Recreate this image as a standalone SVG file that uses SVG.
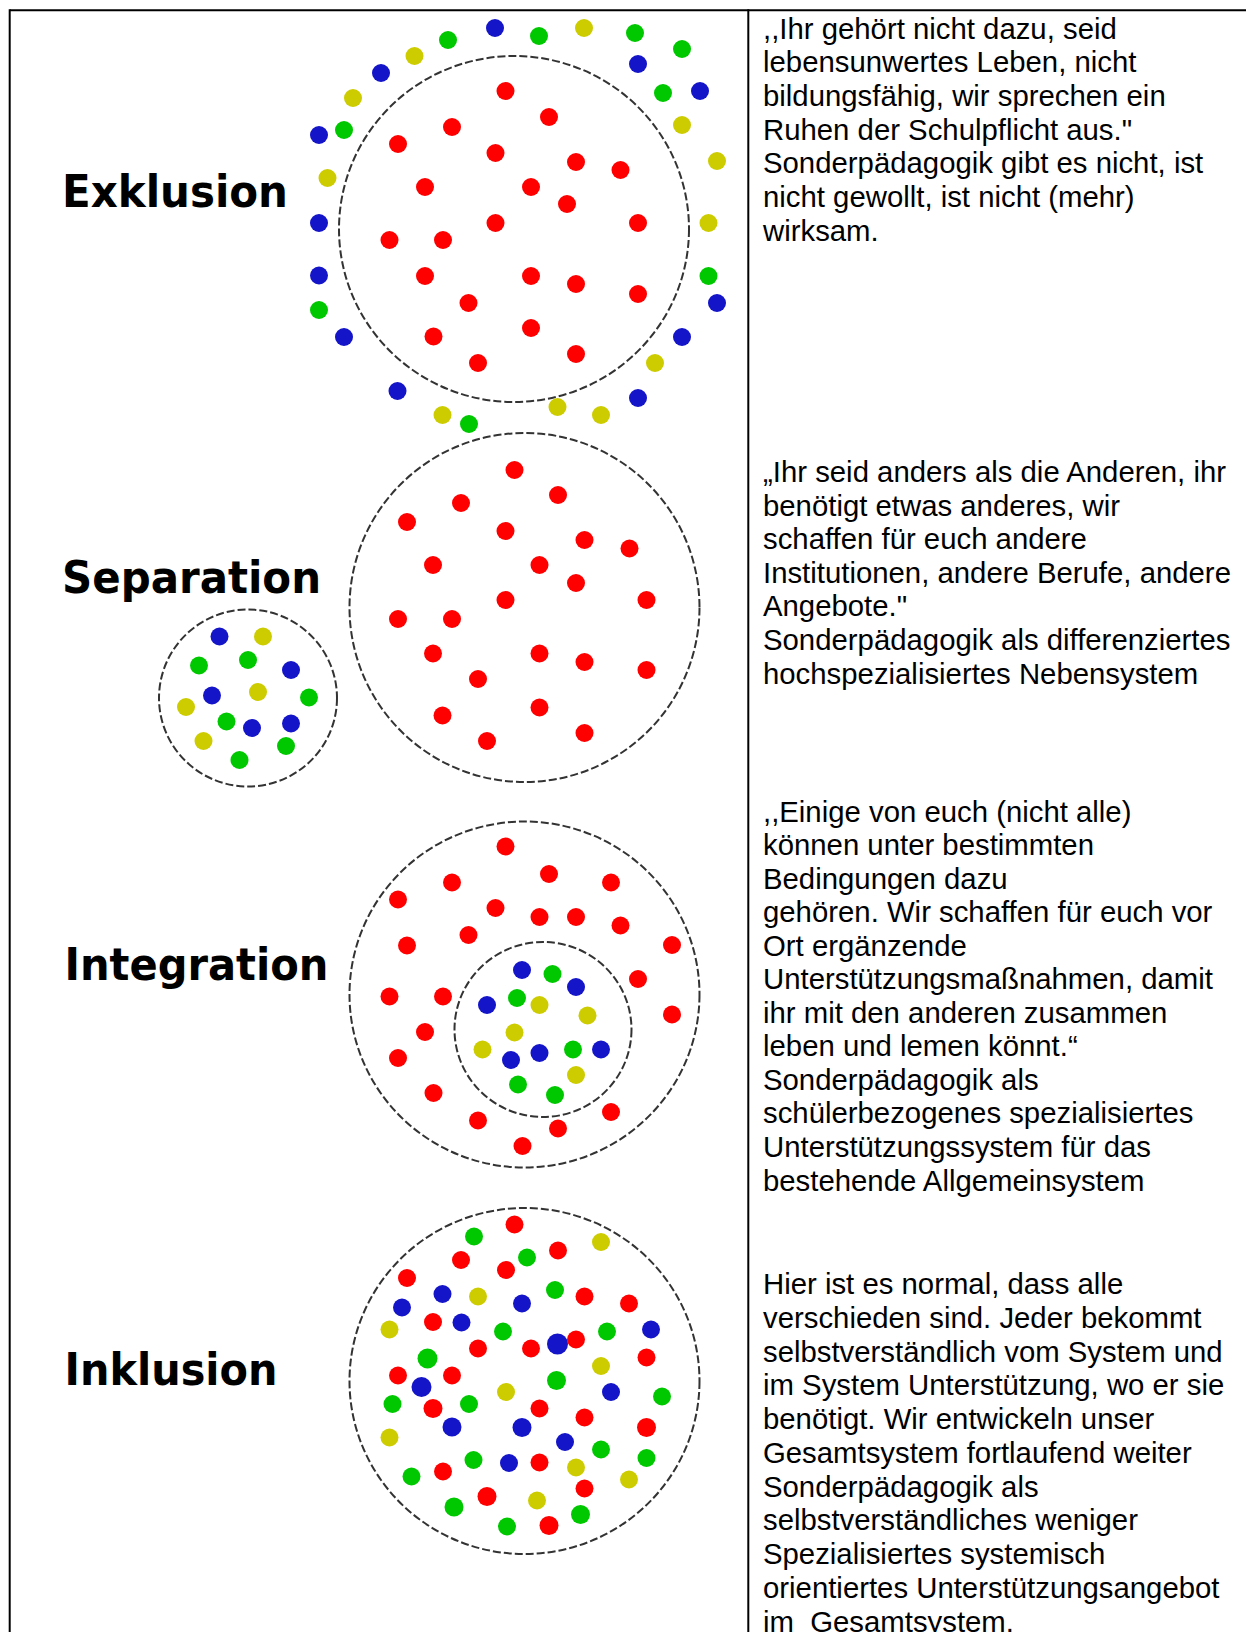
<svg xmlns="http://www.w3.org/2000/svg" width="1246" height="1632" viewBox="0 0 1246 1632">
<style>
.frame{stroke:#000;stroke-width:2;fill:none}
.ring{fill:none;stroke:#333;stroke-width:2;stroke-dasharray:8 3}
.lbl{font-family:"DejaVu Sans",sans-serif;font-weight:bold;font-size:44px;fill:#000}
.txt{font-family:"Liberation Sans",Arial,sans-serif;font-size:29.33px;fill:#000;white-space:pre}
.r{fill:#ff0000}.b{fill:#1414c8}.g{fill:#00c800}.y{fill:#cccc00}
</style>
<rect width="1246" height="1632" fill="#fff"/>
<g id="table">
<line class="frame" x1="9.7" y1="10.3" x2="1246" y2="10.3"/>
<line class="frame" x1="9.7" y1="9.3" x2="9.7" y2="1632"/>
<line class="frame" x1="748.3" y1="9.3" x2="748.3" y2="1632"/>
</g>
<g id="connectors"/>
<g id="exklusion">
<text class="lbl" x="62" y="207" textLength="226" lengthAdjust="spacingAndGlyphs">Exklusion</text>
<ellipse class="ring" cx="514" cy="229" rx="175" ry="173"/>
<g>
<circle class="b" cx="495" cy="28" r="9"/><circle class="g" cx="539" cy="36" r="9"/><circle class="y" cx="584" cy="28" r="9"/><circle class="g" cx="635" cy="33" r="9"/><circle class="g" cx="682" cy="49" r="9"/><circle class="b" cx="638" cy="64" r="9"/><circle class="g" cx="663" cy="93" r="9"/><circle class="b" cx="700" cy="91" r="9"/><circle class="y" cx="682" cy="125" r="9"/><circle class="y" cx="717" cy="161" r="9"/><circle class="y" cx="708.5" cy="223" r="9"/><circle class="g" cx="708.5" cy="276" r="9"/><circle class="b" cx="717" cy="303" r="9"/><circle class="b" cx="682" cy="337" r="9"/><circle class="y" cx="655" cy="363" r="9"/><circle class="b" cx="638" cy="398" r="9"/><circle class="y" cx="601" cy="415" r="9"/><circle class="y" cx="557.5" cy="407" r="9"/><circle class="g" cx="469" cy="424" r="9"/><circle class="y" cx="442.5" cy="415" r="9"/><circle class="b" cx="397.5" cy="391" r="9"/><circle class="b" cx="344" cy="337" r="9"/><circle class="g" cx="319" cy="310" r="9"/><circle class="b" cx="319" cy="275.5" r="9"/><circle class="b" cx="319" cy="223" r="9"/><circle class="y" cx="327.5" cy="178" r="9"/><circle class="b" cx="319" cy="135" r="9"/><circle class="g" cx="344" cy="130" r="9"/><circle class="y" cx="353" cy="98" r="9"/><circle class="b" cx="381" cy="73" r="9"/><circle class="y" cx="414.5" cy="56" r="9"/><circle class="g" cx="448" cy="40" r="9"/>
</g>
<g>
<circle class="r" cx="505.5" cy="91" r="9"/><circle class="r" cx="549" cy="117" r="9"/><circle class="r" cx="452" cy="127" r="9"/><circle class="r" cx="398" cy="144" r="9"/><circle class="r" cx="495.5" cy="153" r="9"/><circle class="r" cx="576" cy="162" r="9"/><circle class="r" cx="620.5" cy="170" r="9"/><circle class="r" cx="425" cy="187" r="9"/><circle class="r" cx="531" cy="187" r="9"/><circle class="r" cx="567" cy="204" r="9"/><circle class="r" cx="495.5" cy="223" r="9"/><circle class="r" cx="638" cy="223" r="9"/><circle class="r" cx="389.5" cy="240" r="9"/><circle class="r" cx="443" cy="240" r="9"/><circle class="r" cx="425" cy="276" r="9"/><circle class="r" cx="531" cy="276" r="9"/><circle class="r" cx="576" cy="284" r="9"/><circle class="r" cx="638" cy="294" r="9"/><circle class="r" cx="468.5" cy="303" r="9"/><circle class="r" cx="433.5" cy="336.5" r="9"/><circle class="r" cx="531" cy="328" r="9"/><circle class="r" cx="576" cy="354" r="9"/><circle class="r" cx="478" cy="363" r="9"/>
</g>
</g>
<g id="separation">
<text class="lbl" x="62" y="593" textLength="259" lengthAdjust="spacingAndGlyphs">Separation</text>
<ellipse class="ring" cx="524.5" cy="607.5" rx="175" ry="174.5"/>
<ellipse class="ring" cx="248" cy="698" rx="89" ry="88.5"/>
<g>
<circle class="r" cx="514.5" cy="470" r="9"/><circle class="r" cx="558" cy="495" r="9"/><circle class="r" cx="461" cy="503" r="9"/><circle class="r" cx="407" cy="522" r="9"/><circle class="r" cx="505.5" cy="531" r="9"/><circle class="r" cx="584.5" cy="540" r="9"/><circle class="r" cx="629.5" cy="548.5" r="9"/><circle class="r" cx="433" cy="565" r="9"/><circle class="r" cx="539.5" cy="565" r="9"/><circle class="r" cx="576" cy="583" r="9"/><circle class="r" cx="505.5" cy="600" r="9"/><circle class="r" cx="646.5" cy="600" r="9"/><circle class="r" cx="398" cy="619" r="9"/><circle class="r" cx="452" cy="619" r="9"/><circle class="r" cx="433" cy="653.5" r="9"/><circle class="r" cx="539.5" cy="653.5" r="9"/><circle class="r" cx="584.5" cy="662" r="9"/><circle class="r" cx="646.5" cy="670" r="9"/><circle class="r" cx="478" cy="679" r="9"/><circle class="r" cx="442.5" cy="715.5" r="9"/><circle class="r" cx="539.5" cy="707.5" r="9"/><circle class="r" cx="584.5" cy="733" r="9"/><circle class="r" cx="487" cy="741" r="9"/>
</g>
<g>
<circle class="b" cx="219.5" cy="636.5" r="9"/><circle class="y" cx="263" cy="636.5" r="9"/><circle class="g" cx="199" cy="665.5" r="9"/><circle class="g" cx="248" cy="660" r="9"/><circle class="b" cx="291" cy="670" r="9"/><circle class="b" cx="212" cy="695.5" r="9"/><circle class="y" cx="258" cy="692" r="9"/><circle class="g" cx="309" cy="697.5" r="9"/><circle class="y" cx="186" cy="707" r="9"/><circle class="g" cx="226.5" cy="721.5" r="9"/><circle class="b" cx="252" cy="728" r="9"/><circle class="b" cx="291" cy="723.5" r="9"/><circle class="y" cx="203.5" cy="741" r="9"/><circle class="g" cx="286" cy="746" r="9"/><circle class="g" cx="239.5" cy="760" r="9"/>
</g>
</g>
<g id="integration">
<text class="lbl" x="64.5" y="980" textLength="264" lengthAdjust="spacingAndGlyphs">Integration</text>
<ellipse class="ring" cx="524.5" cy="994.5" rx="175" ry="173"/>
<ellipse class="ring" cx="543" cy="1029.5" rx="88.5" ry="87.5"/>
<g>
<circle class="r" cx="505.5" cy="846.5" r="9"/><circle class="r" cx="549" cy="874" r="9"/><circle class="r" cx="452" cy="882.5" r="9"/><circle class="r" cx="611" cy="882.5" r="9"/><circle class="r" cx="398" cy="899.5" r="9"/><circle class="r" cx="495.5" cy="908" r="9"/><circle class="r" cx="539.5" cy="917" r="9"/><circle class="r" cx="576" cy="917" r="9"/><circle class="r" cx="620.5" cy="925.5" r="9"/><circle class="r" cx="468.5" cy="935" r="9"/><circle class="r" cx="407" cy="945.5" r="9"/><circle class="r" cx="672" cy="945" r="9"/><circle class="r" cx="638" cy="979" r="9"/><circle class="r" cx="389.5" cy="996.5" r="9"/><circle class="r" cx="443" cy="996.5" r="9"/><circle class="r" cx="672" cy="1014.5" r="9"/><circle class="r" cx="425" cy="1032" r="9"/><circle class="r" cx="398" cy="1058" r="9"/><circle class="r" cx="433.5" cy="1093" r="9"/><circle class="r" cx="611" cy="1112" r="9"/><circle class="r" cx="478" cy="1120.5" r="9"/><circle class="r" cx="558" cy="1128.5" r="9"/><circle class="r" cx="522.5" cy="1146" r="9"/>
</g>
<g>
<circle class="b" cx="522" cy="970" r="9"/><circle class="g" cx="552.5" cy="974" r="9"/><circle class="b" cx="576" cy="987" r="9"/><circle class="b" cx="487" cy="1005" r="9"/><circle class="g" cx="517" cy="998" r="9"/><circle class="y" cx="539.5" cy="1005" r="9"/><circle class="y" cx="587.5" cy="1015.5" r="9"/><circle class="y" cx="514.5" cy="1032.5" r="9"/><circle class="y" cx="482.5" cy="1049.5" r="9"/><circle class="b" cx="511" cy="1060" r="9"/><circle class="b" cx="539.5" cy="1053" r="9"/><circle class="g" cx="573" cy="1049.5" r="9"/><circle class="b" cx="601" cy="1049.5" r="9"/><circle class="y" cx="576" cy="1075" r="9"/><circle class="g" cx="518" cy="1084.5" r="9"/><circle class="g" cx="555" cy="1095" r="9"/>
</g>
</g>
<g id="inklusion">
<text class="lbl" x="64.5" y="1385" textLength="213" lengthAdjust="spacingAndGlyphs">Inklusion</text>
<ellipse class="ring" cx="524.5" cy="1381" rx="175" ry="173"/>
<g>
<circle class="r" cx="514.5" cy="1224.5" r="9"/><circle class="g" cx="474" cy="1236.5" r="9"/><circle class="y" cx="601" cy="1242" r="9"/><circle class="r" cx="558" cy="1250.5" r="9"/><circle class="g" cx="527" cy="1257.5" r="9"/><circle class="r" cx="461" cy="1260" r="9"/><circle class="r" cx="506" cy="1270" r="9"/><circle class="r" cx="407" cy="1278" r="9"/><circle class="b" cx="442.5" cy="1294" r="9"/><circle class="y" cx="478" cy="1296.5" r="9"/><circle class="g" cx="555" cy="1290" r="9"/><circle class="r" cx="584.5" cy="1296.5" r="9"/><circle class="b" cx="522" cy="1303.5" r="9"/><circle class="r" cx="629" cy="1303.5" r="9"/><circle class="b" cx="402" cy="1307.5" r="9"/><circle class="r" cx="433" cy="1322" r="9"/><circle class="b" cx="461.5" cy="1322.5" r="9"/><circle class="y" cx="389.5" cy="1329.5" r="9"/><circle class="g" cx="503" cy="1331.5" r="9"/><circle class="g" cx="607" cy="1331.5" r="9"/><circle class="b" cx="651" cy="1329.5" r="9"/><circle class="r" cx="576" cy="1339.5" r="9"/><circle class="b" cx="557.5" cy="1344" r="10.5"/><circle class="r" cx="478" cy="1348.5" r="9"/><circle class="r" cx="531" cy="1348.5" r="9"/><circle class="r" cx="646.5" cy="1357.5" r="9"/><circle class="g" cx="427.5" cy="1358.5" r="10"/><circle class="y" cx="601" cy="1366" r="9"/><circle class="r" cx="398" cy="1375.5" r="9"/><circle class="r" cx="452" cy="1375.5" r="9"/><circle class="g" cx="556.5" cy="1380.5" r="9.5"/><circle class="b" cx="421.5" cy="1387" r="10"/><circle class="y" cx="506" cy="1392" r="9"/><circle class="b" cx="611" cy="1392" r="9"/><circle class="g" cx="662" cy="1396.5" r="9"/><circle class="g" cx="392.5" cy="1404" r="9"/><circle class="g" cx="469" cy="1404" r="9"/><circle class="r" cx="433" cy="1408.5" r="9.5"/><circle class="r" cx="539.5" cy="1408.5" r="9"/><circle class="r" cx="584.5" cy="1417.5" r="9"/><circle class="b" cx="452" cy="1427" r="9.5"/><circle class="b" cx="522" cy="1427.5" r="9.5"/><circle class="r" cx="646.5" cy="1427.5" r="9.5"/><circle class="y" cx="389.5" cy="1437.5" r="9"/><circle class="b" cx="565" cy="1442" r="9"/><circle class="g" cx="601" cy="1449.5" r="9"/><circle class="g" cx="473.5" cy="1460" r="9"/><circle class="b" cx="509" cy="1463" r="9"/><circle class="r" cx="539.5" cy="1462.5" r="9"/><circle class="g" cx="646.5" cy="1458" r="9"/><circle class="y" cx="576" cy="1467.5" r="9"/><circle class="r" cx="443" cy="1471.5" r="9"/><circle class="g" cx="411.5" cy="1476.5" r="9"/><circle class="y" cx="629" cy="1479.5" r="9"/><circle class="r" cx="584.5" cy="1488.5" r="9"/><circle class="r" cx="487" cy="1496.5" r="9.5"/><circle class="y" cx="537" cy="1500.5" r="9"/><circle class="g" cx="454" cy="1507" r="9.5"/><circle class="g" cx="580.5" cy="1514.5" r="9.5"/><circle class="g" cx="507" cy="1526.5" r="9"/><circle class="r" cx="549" cy="1525.5" r="9.5"/>
</g>
</g>
<g id="text-exklusion">
<text class="txt" x="763" y="38.5"><tspan x="763">,,Ihr gehört nicht dazu, seid</tspan><tspan x="763" dy="33.7">lebensunwertes Leben, nicht</tspan><tspan x="763" dy="33.7">bildungsfähig, wir sprechen ein</tspan><tspan x="763" dy="33.7">Ruhen der Schulpflicht aus."</tspan><tspan x="763" dy="33.7">Sonderpädagogik gibt es nicht, ist</tspan><tspan x="763" dy="33.7">nicht gewollt, ist nicht (mehr)</tspan><tspan x="763" dy="33.7">wirksam.</tspan></text>
</g>
<g id="text-separation">
<text class="txt" x="763" y="482"><tspan x="763">„Ihr seid anders als die Anderen, ihr</tspan><tspan x="763" dy="33.6">benötigt etwas anderes, wir</tspan><tspan x="763" dy="33.6">schaffen für euch andere</tspan><tspan x="763" dy="33.6">Institutionen, andere Berufe, andere</tspan><tspan x="763" dy="33.6">Angebote."</tspan><tspan x="763" dy="33.6">Sonderpädagogik als differenziertes</tspan><tspan x="763" dy="33.6">hochspezialisiertes Nebensystem</tspan></text>
</g>
<g id="text-integration">
<text class="txt" x="763" y="821.5"><tspan x="763">,,Einige von euch (nicht alle)</tspan><tspan x="763" dy="33.55">können unter bestimmten</tspan><tspan x="763" dy="33.55">Bedingungen dazu</tspan><tspan x="763" dy="33.55">gehören. Wir schaffen für euch vor</tspan><tspan x="763" dy="33.55">Ort ergänzende</tspan><tspan x="763" dy="33.55">Unterstützungsmaßnahmen, damit</tspan><tspan x="763" dy="33.55">ihr mit den anderen zusammen</tspan><tspan x="763" dy="33.55">leben und lemen könnt.“</tspan><tspan x="763" dy="33.55">Sonderpädagogik als</tspan><tspan x="763" dy="33.55">schülerbezogenes spezialisiertes</tspan><tspan x="763" dy="33.55">Unterstützungssystem für das</tspan><tspan x="763" dy="33.55">bestehende Allgemeinsystem</tspan></text>
</g>
<g id="text-inklusion">
<text class="txt" x="763" y="1294"><tspan x="763">Hier ist es normal, dass alle</tspan><tspan x="763" dy="33.75">verschieden sind. Jeder bekommt</tspan><tspan x="763" dy="33.75">selbstverständlich vom System und</tspan><tspan x="763" dy="33.75">im System Unterstützung, wo er sie</tspan><tspan x="763" dy="33.75">benötigt. Wir entwickeln unser</tspan><tspan x="763" dy="33.75">Gesamtsystem fortlaufend weiter</tspan><tspan x="763" dy="33.75">Sonderpädagogik als</tspan><tspan x="763" dy="33.75">selbstverständliches weniger</tspan><tspan x="763" dy="33.75">Spezialisiertes systemisch</tspan><tspan x="763" dy="33.75">orientiertes Unterstützungsangebot</tspan><tspan x="763" dy="33.75">im  Gesamtsystem.</tspan></text>
</g>
</svg>
